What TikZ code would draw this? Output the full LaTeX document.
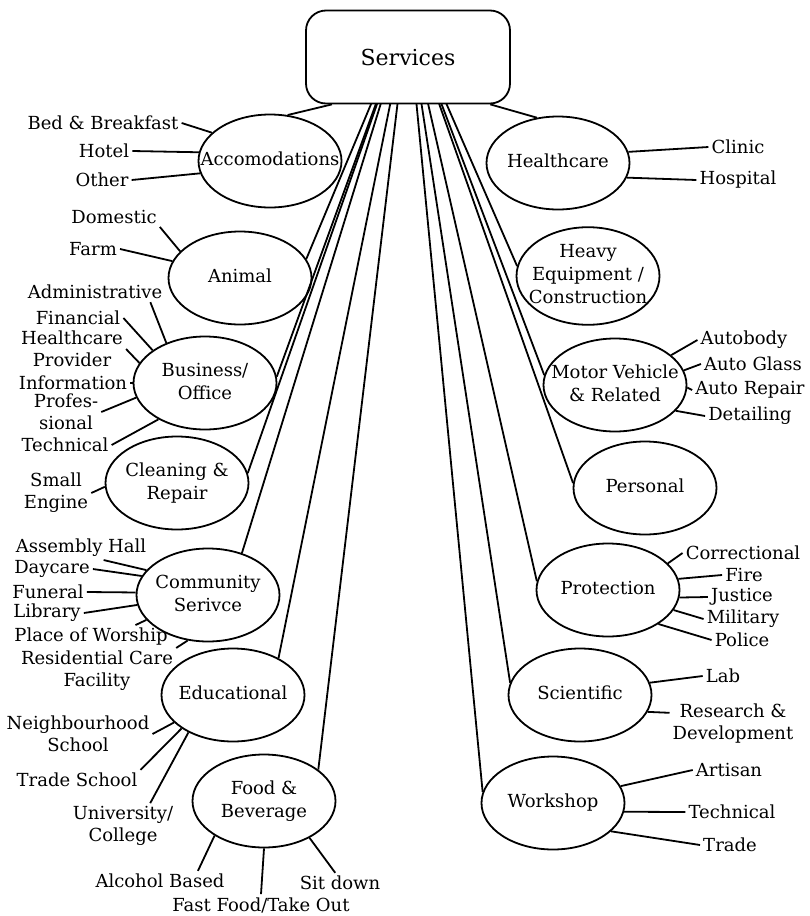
\documentclass[tikz,border=0pt]{standalone}
\usepackage{fontspec}
\setmainfont{DejaVu Serif}
\usepackage{tikz}
\usetikzlibrary{shapes, positioning, calc, backgrounds}

\newcommand{\ovaltext}[1]{\makebox[0pt]{\begin{tabular}{@{}c@{}}#1\end{tabular}}}

\begin{document}
\begin{tikzpicture}[x=1pt, y=-1pt,
    oval/.style={ellipse, draw, line width=1.8pt, minimum width=143pt, minimum height=93pt, inner sep=0pt, font=\fontsize{18}{23}\selectfont},
    lbl/.style={inner sep=3pt, align=center, font=\fontsize{18}{22}\selectfont},
    link/.style={line width=1.8pt}]
\useasboundingbox (0,0) rectangle (809,916);

% root
\node[draw, rounded corners=20pt, line width=1.8pt, fill=white, minimum width=204pt, minimum height=93pt, font=\fontsize{22}{26}\selectfont] (svc) at (408,57) {Services};
\coordinate (hub) at ($(svc.north)+(0,6)$);

% categories, left
\node[oval] (acc) at (270,161) {\ovaltext{Accomodations}};
\node[oval] (ani) at (240,278) {\ovaltext{Animal}};
\node[oval] (bus) at (205,383) {\ovaltext{Business/\\Office}};
\node[oval] (cln) at (177,483) {\ovaltext{Cleaning \&\\Repair}};
\node[oval] (com) at (208,595) {\ovaltext{Community\\Serivce}};
\node[oval] (edu) at (233,695) {\ovaltext{Educational}};
\node[oval] (food) at (264,801) {\ovaltext{Food \&\\Beverage}};

% categories, right
\node[oval] (hc) at (558,163) {\ovaltext{Healthcare}};
\node[oval] (heavy) at (588,276) {\ovaltext{Heavy\\Equipment /\\Construction}};
\node[oval] (mv) at (615,385) {\ovaltext{Motor Vehicle\\\& Related}};
\node[oval] (pers) at (645,488) {\ovaltext{Personal}};
\node[oval] (prot) at (608,590) {\ovaltext{Protection}};
\node[oval] (sci) at (580,695) {\ovaltext{Scientific}};
\node[oval] (ws) at (553,803) {\ovaltext{Workshop}};

% fan from the root
\begin{scope}[on background layer]
    \draw[link] (hub) -- (ani.16);
    \draw[link] (hub) -- (bus.5);
    \draw[link] (hub) -- (cln.8);
    \draw[link] (hub) -- (com.51);
    \draw[link] (hub) -- (edu.39);
    \draw[link] (hub) -- (food.30);
    \draw[link] (hub) -- (heavy.172);
    \draw[link] (hub) -- (mv.172);
    \draw[link] (hub) -- (pers.176);
    \draw[link] (hub) -- (prot.173);
    \draw[link] (hub) -- (sci.170);
    \draw[link] (hub) -- (ws.171);
\end{scope}
\draw[link] ($(svc.south west)!0.13!(svc.south east)$) -- (acc.69);
\draw[link] ($(svc.south west)!0.9!(svc.south east)$) -- (hc.115);

% Accomodations
\node[lbl] (bb) at (103,123) {Bed \& Breakfast};
\node[lbl] (hotel) at (104,151) {Hotel};
\node[lbl] (other) at (102,180) {Other};
\draw[link] (bb.east) -- (acc.154);
\draw[link] (hotel.east) -- (acc.173);
\draw[link] (other.east) -- (acc.190);

% Animal
\node[lbl] (dom) at (114,217) {Domestic};
\node[lbl] (farm) at (93,249) {Farm};
\draw[link] (dom.south east) -- (ani.156);
\draw[link] (farm.east) -- (ani.166);

% Business/Office
\node[lbl] (adm) at (95,292) {Administrative};
\node[lbl] (fin) at (78,318) {Financial};
\node[lbl] (hcp) at (72,349) {Healthcare\\Provider};
\node[lbl] (info) at (73,383) {Information};
\node[lbl] (prof) at (66,412) {Profes-\\sional};
\node[lbl] (tech) at (65,445) {Technical};
\draw[link] ($(adm.south east)+(-15,0)$) -- (bus.134);
\draw[link] (fin.east) -- (bus.148);
\draw[link] (hcp.east) -- (bus.163);
\draw[link] (info.east) -- (bus.180);
\draw[link] (prof.east) -- (bus.192);
\draw[link] (tech.east) -- (bus.218);

% Cleaning & Repair
\node[lbl] (small) at (56,493) {Small\\Engine};
\draw[link] (small.east) -- (cln.183);

% Community Serivce
\node[lbl] (ah) at (81,548) {Assembly Hall};
\node[lbl] (day) at (52,569) {Daycare};
\node[lbl] (fun) at (48,592) {Funeral};
\node[lbl] (lib) at (47,613) {Library};
\node[lbl] (pow) at (91,637) {Place of Worship};
\node[lbl] (rc) at (97,671) {Residential Care\\Facility};
\draw[link] (ah.-28) -- (com.158);
\draw[link] (day.east) -- (com.164);
\draw[link] (fun.east) -- (com.178);
\draw[link] (lib.east) -- (com.188);
\draw[link] (pow.15) -- (com.202);
\draw[link] (rc.north east) -- (com.246);

% Educational
\node[lbl] (nh) at (78,734) {Neighbourhood\\School};
\node[lbl] (ts) at (77,780) {Trade School};
\node[lbl] (uni) at (123,826) {University/\\College};
\draw[link] (nh.east) -- (edu.205);
\draw[link] (ts.north east) -- (edu.213);
\draw[link] (uni.40) -- (edu.220);

% Food & Beverage
\node[lbl] (alc) at (160,881) {Alcohol Based};
\node[lbl] (ff) at (261,905) {Fast Food/Take Out};
\node[lbl] (sit) at (340,883) {Sit down};
\draw[link] (alc.15) -- (food.215);
\draw[link] (ff.north) -- (food.270);
\draw[link] (sit.115) -- (food.321);

% Healthcare
\node[lbl] (clin) at (738,147) {Clinic};
\node[lbl] (hosp) at (738,180) {Hospital};
\draw[link] (clin.west) -- (hc.9);
\draw[link] (hosp.west) -- (hc.348);

% Motor Vehicle & Related
\node[lbl] (ab) at (744,340) {Autobody};
\node[lbl] (ag) at (753,364) {Auto Glass};
\node[lbl] (ar) at (750,390) {Auto Repair};
\node[lbl] (det) at (750,416) {Detailing};
\draw[link] (ab.west) -- (mv.28);
\draw[link] (ag.west) -- (mv.12);
\draw[link] (ar.west) -- (mv.358);
\draw[link] (det.west) -- (mv.337);

% Protection
\node[lbl] (cor) at (743,553) {Correctional};
\node[lbl] (fire) at (744,575) {Fire};
\node[lbl] (jus) at (742,597) {Justice};
\node[lbl] (mil) at (743,619) {Military};
\node[lbl] (pol) at (742,640) {Police};
\draw[link] (cor.west) -- (prot.24);
\draw[link] (fire.west) -- (prot.9);
\draw[link] (jus.west) -- (prot.354);
\draw[link] (mil.west) -- (prot.343);
\draw[link] (pol.west) -- (prot.326);

% Scientific
\node[lbl] (lab) at (723,676) {Lab};
\node[lbl] (rd) at (733,724) {Research \&\\Development};
\draw[link] (lab.west) -- (sci.10);
\draw[link] (rd.170) -- (sci.346);

% Workshop
\node[lbl] (art) at (729,770) {Artisan};
\node[lbl] (techw) at (732,812) {Technical};
\node[lbl] (trade) at (730,845) {Trade};
\draw[link] (art.west) -- (ws.14);
\draw[link] (techw.west) -- (ws.353);
\draw[link] (trade.west) -- (ws.334);
\end{tikzpicture}
\end{document}
